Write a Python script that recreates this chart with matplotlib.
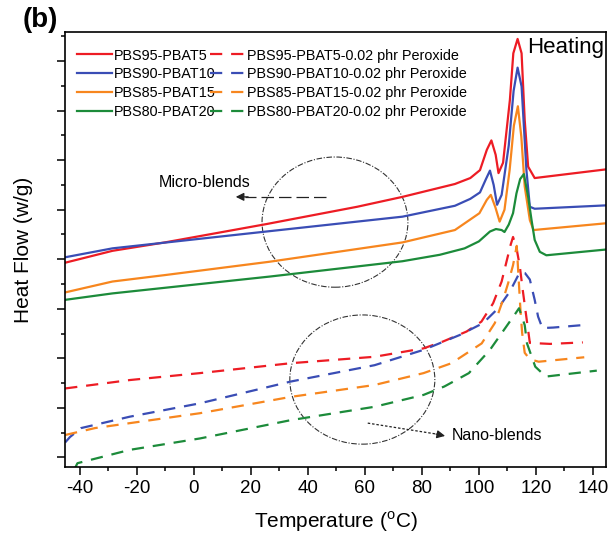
import matplotlib
matplotlib.use("Agg")
import matplotlib.pyplot as plt
from matplotlib.patches import Ellipse
from matplotlib.ticker import MultipleLocator, NullFormatter

plt.rcParams["font.family"] = ["Liberation Sans", "DejaVu Sans"]
plt.rcParams["mathtext.fontset"] = "custom"
plt.rcParams["mathtext.rm"] = "Liberation Sans"
plt.rcParams["axes.unicode_minus"] = False

# ---- data (temperature in degC, heat flow in arbitrary units) ----
t_r = [-45.2, -28.6, -10.2, 25.4, 57.3, 73.2, 91.6, 97, 100.4, 102.8, 104.4, 105.9, 106.9,
       108.5, 110.9, 112.1, 113.6, 115.0, 116.1, 117.3, 119.6, 145.3]
h_r = [3.93, 4.17, 4.34, 4.71, 5.06, 5.26, 5.52, 5.64, 5.80, 6.21, 6.40, 6.11, 5.74,
       5.95, 7.22, 8.16, 8.45, 8.16, 6.81, 5.87, 5.64, 5.82]

t_b = [-45.2, -28.6, 25.4, 73.2, 91.6, 97, 100.4, 102.5, 103.9, 105.2, 106.4, 108, 110.5,
       112.2, 113.6, 115.0, 116.7, 117.9, 119.6, 145.3]
h_b = [4.04, 4.22, 4.56, 4.86, 5.08, 5.22, 5.35, 5.62, 5.79, 5.50, 5.10, 5.30, 6.30,
       7.40, 7.87, 7.49, 5.80, 5.06, 5.02, 5.09]

t_o = [-45.2, -28.6, -10.2, 26.6, 73.2, 91.6, 100.2, 102.8, 104.2, 105.8, 107.3, 109, 110.8,
       112.3, 113.7, 114.9, 116.1, 117.9, 119.2, 145.3]
h_o = [3.33, 3.55, 3.68, 3.95, 4.34, 4.59, 4.93, 5.20, 5.30, 5.05, 4.76, 5.00, 5.80,
       6.70, 7.09, 6.48, 5.47, 4.79, 4.59, 4.73]

t_g = [-45.2, -28.6, 26.6, 73.2, 86.3, 95, 100, 103.9, 106, 108, 109, 110.5, 112, 113.2,
       114.5, 115.8, 117.3, 118.5, 119.6, 121.4, 123.7, 145.3]
h_g = [3.18, 3.31, 3.65, 3.96, 4.09, 4.22, 4.36, 4.56, 4.61, 4.59, 4.55, 4.70, 4.93, 5.33,
       5.62, 5.72, 5.26, 4.79, 4.39, 4.15, 4.08, 4.20]

# 0.02 phr peroxide (nano-blends)
t_rp = [-45.2, -22.5, 2.1, 34, 63.4, 80.6, 87.5, 95.7, 100.9, 105, 108, 109.7, 111.2, 112,
        113.2, 114.4, 115.4, 116.8, 117.9, 125, 136.5]
h_rp = [1.39, 1.56, 1.70, 1.90, 2.03, 2.20, 2.34, 2.54, 2.74, 3.11, 3.55, 3.95, 4.30, 4.45,
        4.23, 3.85, 3.38, 2.78, 2.31, 2.29, 2.32]

t_bp = [-45.2, -43.5, -39.6, -22.5, 2.1, 34, 63.4, 80.6, 93.3, 101.5, 106.8, 110.9, 114.4,
        116.2, 117.9, 119.6, 120.8, 122.3, 126.1, 136.5]
h_bp = [0.30, 0.41, 0.59, 0.82, 1.09, 1.53, 1.86, 2.17, 2.47, 2.71, 3.01, 3.35, 3.74,
        3.72, 3.59, 3.18, 2.84, 2.61, 2.62, 2.67]

t_op = [-45.2, -34.7, 2.1, 34, 63.4, 80.6, 90.4, 101, 105.6, 108.5, 110.3, 112, 113.3,
        114.6, 115.2, 116.1, 117.9, 121, 137]
h_op = [0.45, 0.59, 0.89, 1.22, 1.46, 1.70, 1.90, 2.30, 2.71, 3.18, 3.52, 3.88, 4.27,
        2.98, 2.51, 2.11, 1.98, 1.93, 2.02]

t_gp = [-42, -40.9, -22.5, 2.1, 34, 63.4, 80.6, 87.9, 96.5, 103.9, 110, 112.8, 114.1,
        116.1, 116.9, 119.8, 123.5, 141.4]
h_gp = [-0.25, -0.12, 0.15, 0.38, 0.75, 1.02, 1.26, 1.43, 1.70, 2.17, 2.67, 2.90, 3.01,
        2.67, 2.30, 1.83, 1.63, 1.75]

labels = ["PBS95-PBAT5", "PBS90-PBAT10", "PBS85-PBAT15", "PBS80-PBAT20"]
colors = ["#ED1C24", "#3A4DB5", "#F7861E", "#1C8B3A"]

fig = plt.figure(figsize=(6.08, 5.37), dpi=100)
ax = fig.add_axes([0.1072, 0.1304, 0.8903, 0.81])

solid = [(t_r, h_r), (t_b, h_b), (t_o, h_o), (t_g, h_g)]
dashed = [(t_rp, h_rp), (t_bp, h_bp), (t_op, h_op), (t_gp, h_gp)]

handles = []
for (t, h), c, lab in zip(solid, colors, labels):
    ln, = ax.plot(t, h, color=c, lw=1.6, label=lab)
    handles.append(ln)
for (t, h), c, lab in zip(dashed, colors, labels):
    ln, = ax.plot(t, h, color=c, lw=1.6, dashes=(5.5, 4), label=lab + "-0.02 phr Peroxide")
    handles.append(ln)

ax.set_xlim(-45.2, 144.8)
ax.set_ylim(-0.196, 8.59)
ax.xaxis.set_major_locator(MultipleLocator(20))
ax.xaxis.set_minor_locator(MultipleLocator(10))
ax.yaxis.set_major_locator(MultipleLocator(1))
ax.yaxis.set_minor_locator(MultipleLocator(0.5))
ax.yaxis.set_major_formatter(NullFormatter())
ax.tick_params(which="major", direction="out", length=6, width=1.1, labelsize=13.5)
ax.tick_params(which="minor", direction="out", length=3, width=1.1)
for s in ax.spines.values():
    s.set_linewidth(1.2)

ax.set_xlabel(r"Temperature ($^{\mathregular{o}}$C)", fontsize=15, labelpad=9)
ax.set_ylabel("Heat Flow (w/g)", fontsize=15, labelpad=14)

leg = ax.legend(handles=handles, ncol=2, loc="upper left", bbox_to_anchor=(0.022, 0.962),
                frameon=False, fontsize=10.4, handlelength=2.4, handletextpad=0.15,
                columnspacing=-0.4, labelspacing=0.33, borderpad=0, borderaxespad=0)

ax.text(0.854, 0.964, "Heating", transform=ax.transAxes, fontsize=16, va="center", ha="left")
fig.text(0.067, 0.962, "(b)", fontsize=20, fontweight="bold", ha="center", va="center")

# annotation circles and arrows
ax.add_patch(Ellipse((49.5, 4.75), 51.2, 2.63, fill=False, lw=0.8, ec="#333333",
                     ls=(0, (5, 1.5, 1, 1.5))))
ax.add_patch(Ellipse((59.1, 1.57), 50.9, 2.61, fill=False, lw=0.8, ec="#333333",
                     ls=(0, (5, 1.5, 1, 1.5))))

ax.plot([46.3, 18], [5.26, 5.26], color="#222222", lw=0.9, dashes=(10, 4))
ax.annotate("", xy=(13.7, 5.26), xytext=(20, 5.26),
            arrowprops=dict(arrowstyle="-|>", color="#222222", lw=0.9, mutation_scale=12))
ax.text(3.9, 5.56, "Micro-blends", fontsize=11.5, ha="center", va="center")

ax.plot([61, 85], [0.69, 0.47], color="#222222", lw=0.9, dashes=(2, 1.5))
ax.annotate("", xy=(89.1, 0.42), xytext=(84, 0.48),
            arrowprops=dict(arrowstyle="-|>", color="#222222", lw=0.9, mutation_scale=12))
ax.text(90.4, 0.43, "Nano-blends", fontsize=11.5, ha="left", va="center")

fig.savefig("out.png", dpi=100)
